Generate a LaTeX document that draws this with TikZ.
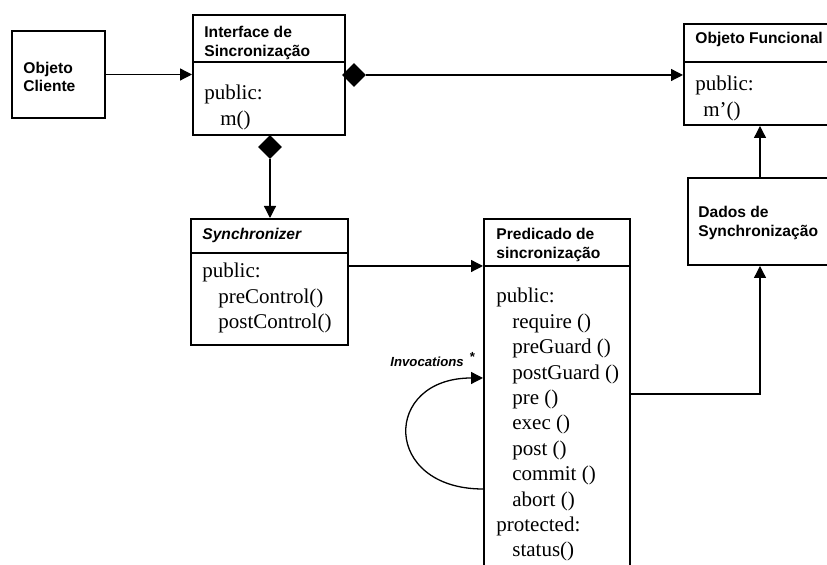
\documentclass[tikz,border=0pt]{standalone}
\usepackage{fontspec}
\setmainfont{Liberation Serif}
\setsansfont{Liberation Sans}
\usetikzlibrary{arrows.meta,shapes.geometric,fit}

% stacked lines whose baseline is the first line
\newcommand\umlrows[1]{\begin{tabular}[t]{@{}l@{}}#1\end{tabular}}
\newcommand\mindent{\hspace*{8pt}}

\begin{document}
\begin{tikzpicture}[x=0.5pt,y=-0.5pt,
  box/.style={draw, line width=1pt, inner sep=0pt},
  divider/.style={line width=0.6pt},
  conn/.style={line width=0.65pt},
  arr/.style={conn, -{Triangle[length=6pt,width=6pt]}},
  agg/.style={diamond, fill=black, draw=none, inner sep=0pt,
              minimum width=12pt, minimum height=12pt},
  titlefont/.style={font=\fontsize{7.8}{9.4}\selectfont\sffamily\bfseries},
  title/.style={anchor=base west, inner sep=0pt, titlefont},
  body/.style={anchor=base west, inner sep=0pt,
               font=\fontsize{10.5}{12.7}\selectfont},
  note/.style={anchor=base west, inner sep=0pt,
               font=\fontsize{6.6}{8}\selectfont\sffamily\bfseries\itshape},
]
\useasboundingbox (0,0) rectangle (827,565);
\fill[white] (0,0) rectangle (827,565);
\clip (0,0) rectangle (827,565);

% class boxes
\node[box, fit={(12,31)(105,118)}]   (cli)  {};
\node[box, fit={(193,15)(345,135)}]  (ifc)  {};
\node[box, fit={(684,24)(870,125)}]  (fun)  {};
\node[box, fit={(688,178)(870,265)}] (dad)  {};
\node[box, fit={(191,219)(348,345)}] (syn)  {};
\node[box, fit={(484,219)(630,610)}] (pred) {};

% compartment lines
\draw[divider] (ifc.west |- 0,62)   -- (ifc.east |- 0,62);
\draw[divider] (fun.west |- 0,62)   -- (fun.east |- 0,62);
\draw[divider] (syn.west |- 0,253)  -- (syn.east |- 0,253);
\draw[divider] (pred.west |- 0,266) -- (pred.east |- 0,266);

% aggregation diamonds
\node[agg] (d1) at (354,75)  {};
\node[agg] (d2) at (270,147) {};

% associations
\draw[arr] (cli.east) -- (cli.east -| ifc.west);
\draw[arr] (d1.east) -- (d1.east -| fun.west);
\draw[arr] (d2.south) -- (d2.south |- syn.north);
\draw[arr] (syn.east |- 0,266) -- (pred.west |- 0,266);
\coordinate (lift) at (760,394);
\draw[arr] (pred.east |- lift) -- (lift) -- (lift |- dad.south);
\draw[arr] (dad.north -| lift) -- (lift |- fun.south);

% self invocation loop
\coordinate (lb) at (pred.west |- 0,489);
\coordinate (lt) at (pred.west |- 0,378);
\draw[arr] (lb) .. controls (382,489) and (382,378) .. (lt);
\node[note] (inv)  at (390,367) {Invocations};
\node[note] (star) at (469,362) {*};

% class texts
\node[title, font=\fontsize{7.8}{8.6}\selectfont\sffamily\bfseries]
      (clit) at (23,74) {\umlrows{Objeto\\Cliente}};
\node[title] (ifct) at (204,38) {\umlrows{Interface de\\Sincronização}};
\node[body]  (ifcb) at (204,100) {\umlrows{public:\\\mindent m()}};
\node[title] (funt) at (695,44) {Objeto Funcional};
\node[body]  (funb) at (695,91) {\umlrows{public:\\\hspace*{4pt}m’()}};
\node[title] (dadt) at (698,218) {\umlrows{Dados de\\Synchronização}};
\node[title, font=\fontsize{7.8}{9.4}\selectfont\sffamily\bfseries\itshape]
      (synt) at (202,240) {Synchronizer};
\node[body]  (synb) at (202,278)
      {\umlrows{public:\\\mindent preControl()\\\mindent postControl()}};
\node[title] (predt) at (496,240) {\umlrows{Predicado de\\sincronização}};
\node[body]  (predb) at (496,303)
      {\umlrows{public:\\
                \mindent require ()\\
                \mindent preGuard ()\\
                \mindent postGuard ()\\
                \mindent pre ()\\
                \mindent exec ()\\
                \mindent post ()\\
                \mindent commit ()\\
                \mindent abort ()\\
                protected:\\
                \mindent status()}};
\end{tikzpicture}
\end{document}
